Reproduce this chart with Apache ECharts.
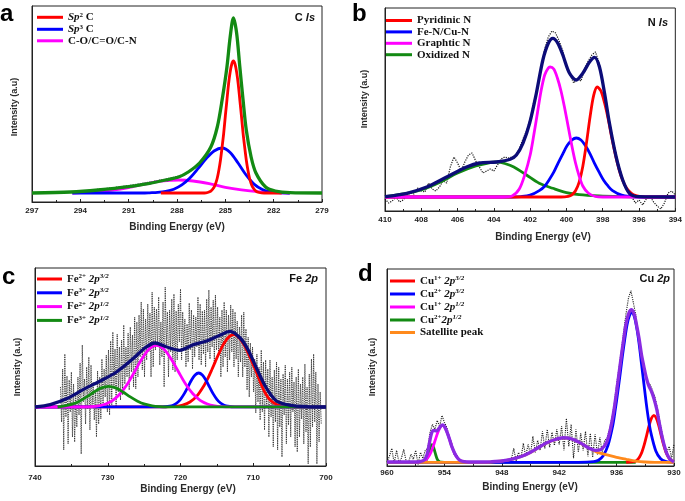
<!DOCTYPE html>
<html><head><meta charset="utf-8">
<script src="https://cdn.jsdelivr.net/npm/echarts@6/dist/echarts.min.js"></script>
<style>html,body{margin:0;padding:0;background:#fff}#c{width:685px;height:501px}</style>
</head><body><div id="c"></div>
<script>
// ---------- Panel a : C 1s  ([binding energy eV, intensity]) ----------
const aSp2 = [[289,0],[286.3,0],[286.1,0.5],[285.9,1.9],[285.7,5.8],[285.6,9.5],[285.5,15],[285.4,23],[285.3,33],[285.2,46],[285.1,60],[285.0,77],[284.9,93],[284.8,109],[284.7,121],[284.6,129],[284.5,132],[284.4,129],[284.3,121],[284.2,109],[284.1,93],[284.0,77],[283.9,60],[283.8,46],[283.7,33],[283.6,23],[283.5,15],[283.4,9.5],[283.3,5.8],[283.1,1.9],[282.9,0.5],[282.6,0],[281.5,0]];
const aSp3 = [[294.5,0],[290,0],[289.7,0.2],[289.2,0.6],[288.7,1.6],[288.2,3.8],[287.7,8.1],[287.2,15],[286.7,24.3],[286.2,34.2],[285.7,42],[285.2,45],[284.7,40.6],[284.2,29.7],[283.7,17.8],[283.2,8.6],[282.7,3.4],[282.2,1.1],[281.7,0.3],[281,0]];
const aCO = [[294.5,0],[294,0.3],[293,1.2],[292,2.9],[291,5.5],[290,8.9],[289,11.8],[287.9,13],[287,12],[286,9.3],[285,5.7],[284,3.1],[283,1.3],[282,0.5],[281,0]];
const aFit = [[297,0],[294.6,1],[292.9,3],[291,6.3],[289.7,9.7],[288.7,13],[287.9,16],[287.3,21],[286.6,30],[285.9,46],[285.5,66],[285.2,93],[284.9,126],[284.7,156],[284.5,175],[284.3,160],[284.1,126],[283.9,93],[283.7,63],[283.4,36],[283.1,20],[282.5,6],[281.9,2],[281,0.3],[279,0]];
const aRaw = [[294,1.5],[293,3.5],[292,5.2],[291,7.5],[290,10],[289,13],[288,16.5],[287.5,19.5],[287,23.5],[286.7,28]];

// ---------- Panel b : N 1s ----------
const bPyridinic = [[410,0],[400.3,0],[399.9,0.7],[399.7,2.2],[399.5,6.2],[399.3,14.9],[399.1,30.6],[398.9,53.6],[398.7,80],[398.5,101.6],[398.3,110],[398.1,106],[397.9,94],[397.7,78],[397.5,59],[397.3,42],[397.1,27.5],[396.9,16.6],[396.7,9.3],[396.5,4.9],[396.3,2.3],[395.9,0.4],[395.5,0],[394,0]];
const bFeN = [[410,0],[403,0],[402.5,0.4],[402,1.8],[401.5,6.4],[401.2,10.8],[400.96,17],[400.7,24.8],[400.46,33.9],[400.2,43.2],[399.96,51.4],[399.7,57],[399.46,59],[399.2,57],[398.96,51.4],[398.7,43.2],[398.46,33.9],[398.2,24.8],[397.96,17],[397.7,10.8],[397.46,6.4],[396.96,1.8],[396.46,0.4],[396,0],[394,0]];
const bGraphitic = [[410,0],[403.5,0],[403.0,1],[402.6,8],[402.3,22],[402.0,42],[401.8,62],[401.6,84],[401.4,106],[401.2,122],[401.0,129],[400.9,130],[400.7,128],[400.5,119],[400.3,106],[400.1,89],[399.9,70],[399.7,51],[399.5,34],[399.3,21],[399.1,11],[398.8,4],[398.4,0.5],[398,0],[394,0]];
const bOxidized = [[410,0.3],[409,3],[408,7],[407,14.5],[406,24],[405,31],[404.2,34.5],[403.8,35],[403.4,33.5],[402.9,30],[402.2,22],[401.5,13.7],[400.75,8.7],[400,4.3],[399.3,2.3],[398.2,1],[397,0.4],[396,0.2],[394,0]];
const bFit = [[410,0.3],[408.8,3.7],[407.7,10],[406.6,20],[405.5,30],[404.8,34],[403.86,35],[403.1,37.7],[402.76,42],[402.4,53.7],[402.03,73.7],[401.66,103.7],[401.3,137],[401.0,153.7],[400.75,158.7],[400.47,153.7],[400.2,142],[399.83,123.7],[399.46,117],[399.1,123.7],[398.73,135],[398.45,139.7],[398.18,130],[397.9,103.7],[397.63,73.7],[397.26,40],[396.9,17],[396.53,3.7],[396,0.3],[394,0]];
const bRawStart = 410, bRawStep = 0.2;
const bRaw = [-2,-6,-4,0,-5,-3,2,4,3,9, 6,5,14,8,6,10,16,14,30,40, 34,26,35,42,44,36,30,24,26,28, 26,32,38,40,39,40,42,48,58,66, 78,95,110,130,148,160,166,164,156,146, 130,122,114,118,116,128,136,142,145,134, 115,95,72,54,38,24,11,4,0,-6, -3,-8,-2,1,-5,-9,-12,-6,4,6, 2];

// ---------- Panel c : Fe 2p ----------
const cFe2p32 = [[740,0],[722,0.2],[720.7,0.6],[719.7,1.9],[718.7,5],[717.7,11.4],[716.7,22.2],[716.2,29.2],[715.7,37.2],[715.2,45.6],[714.7,53.8],[714.2,61.3],[713.7,67.2],[713.2,71],[712.7,72.4],[712.2,71],[711.7,67.2],[711.2,61.3],[710.7,53.8],[710.2,45.6],[709.7,37.2],[709.2,28],[708.7,19],[708.2,12],[707.7,7],[706.7,2.2],[705.7,0.6],[704.7,0.1],[700,0]];
const cFe3p32 = [[740,0],[722.5,0.1],[721.5,0.75],[721,1.8],[720.5,4],[720,7.7],[719.5,13.1],[719,19.9],[718.5,26.8],[718,32],[717.5,34],[717,32],[716.5,26.8],[716,19.9],[715.5,13.1],[715,7.7],[714.5,4],[714,1.8],[713.5,0.75],[712.5,0.1],[700,0]];
const cFe2p12 = [[740,0],[733.3,0.1],[732.3,0.4],[731.3,1.2],[730.3,3],[729.3,6.7],[728.3,13.2],[727.3,23],[726.3,35.5],[725.3,48.2],[724.3,58],[723.3,61.7],[722.3,58],[721.3,48.2],[720.3,35.5],[719.3,23],[718.3,13.2],[717.3,6.7],[716.3,3],[715.3,1.2],[714.3,0.4],[713.3,0.1],[700,0]];
const cFe3p12 = [[736.9,0],[735.9,1.2],[734.9,2.8],[733.9,5.8],[732.9,10.1],[731.9,15],[730.9,19.1],[729.9,20.7],[728.9,19.1],[727.9,15],[726.9,10.1],[725.9,5.8],[724.9,2.8],[723.9,1.2],[722.9,0.4],[721.9,0.1],[700,0]];
const cFit = [[740,0],[737.9,2.4],[735.6,8.4],[733.4,17.4],[731.1,25.7],[728.8,35],[726.5,48.4],[724.9,59],[723.5,64],[721.9,60],[720.1,56.7],[718.2,62.4],[716.4,66],[714.6,71.7],[713.2,75.7],[711.8,69],[710.7,57],[709.5,38],[708.2,19],[706.8,6],[704.9,1.7],[702.7,0.4],[700,0]];
const cRawStart = 736.5, cRawStep = 0.15;
const cRaw = [20,-15,38,-43, 53,-10,31,-37, 27,-5,35,-30, 23,-35,12,-20, 30,-8,44,-47, 62,5,28,-17, 40,-2,50,-23, 42,0,25,-13, 17,-30,36,-17, 30,-12,48,0,
  38,10,52,-5, 57,-8,66,2, 75,20,58,0, 73,15,60,7, 67,12,82,23, 60,30,74,17, 80,35,72,20, 90,18,85,30, 92,50,105,37, 98,30,88,47,
  103,55,94,30, 115,40,100,57, 98,60,110,42, 85,50,105,20, 120,62,95,30, 97,55,108,37, 113,35,96,47, 103,65,118,47, 95,58,88,40, 83,45,104,57,
  97,38,92,50, 90,60,110,47, 103,42,96,53, 97,40,108,55, 117,48,100,60, 107,42,112,57, 100,52,90,30, 97,40,105,50, 97,35,92,47, 102,55,98,40,
  95,48,86,30, 80,45,92,30, 95,40,78,17, 70,10,64,30, 60,15,48,-6, 53,5,40,-13, 57,-5,45,-23, 47,0,38,-30, 47,-10,30,-40, 37,-15,45,-43,
  40,-20,28,-50, 33,-8,42,-37, 28,-18,35,-30, 40,-5,25,-40, 30,-45,38,-30, 23,-12,30,-37, 43,-25,20,-57, 33,-40,48,-20, 53,-15,35,-57, 23,-35,15,-17];

// ---------- Panel d : Cu 2p ----------
const dCu1p32 = [[935,0],[934.1,1],[933.85,2.4],[933.6,5.4],[933.35,10.4],[933.1,17.9],[932.85,27.3],[932.6,37],[932.35,44.2],[932.1,47],[931.85,44.2],[931.6,37],[931.35,27.3],[931.1,17.9],[930.85,10.4],[930.6,5.4],[930.35,2.4],[930.1,1],[930,0.7]];
const dCu2p32 = [[960,0],[940,0],[938.4,0.6],[937.9,2.1],[937.4,6.6],[936.9,17],[936.4,37],[936.15,52],[935.9,69],[935.65,87],[935.4,106],[935.15,123],[934.9,138],[934.65,147],[934.4,150],[934.15,146],[933.9,135],[933.65,119],[933.4,99],[933.15,79],[932.9,59],[932.65,42],[932.4,29],[931.9,11.4],[931.4,3.6],[930.9,0.9],[930.4,0.1],[930,0]];
const dCu1p12 = [[957,0],[956.7,0.2],[956.2,1.1],[955.95,2.4],[955.7,5],[955.45,9.2],[955.2,15.2],[954.95,22.5],[954.7,29.6],[954.45,35],[954.2,37],[953.95,35],[953.7,29.6],[953.45,22.5],[953.2,15.2],[952.95,9.2],[952.7,5],[952.45,2.4],[952.2,1.1],[951.7,0.2],[951,0]];
const dCu2p12 = [[957,0],[956.3,0.1],[956.1,0.5],[956.0,1.2],[955.9,2.4],[955.8,4.4],[955.7,7.3],[955.6,10.7],[955.5,14.2],[955.4,16.7],[955.3,17.7],[955.2,16.7],[955.1,14.2],[955.0,10.7],[954.9,7.3],[954.8,4.4],[954.7,2.4],[954.6,1.2],[954.5,0.5],[954.3,0.1],[954,0],[934,0]];
const dSatellite = [[960,0],[949.5,0],[948.5,0.8],[947.5,2],[946.8,3.4],[946,5.8],[945.1,9.4],[944.2,14.5],[943.3,19.4],[942.5,22.5],[941.6,24.5],[940.8,23.6],[939.8,19.4],[938.8,13.7],[938,10],[937,7.5],[936,5],[935,3],[934,1.2],[933,0.3],[932,0],[930,0]];
const dFit = [[960,0.3],[957,0.3],[956.5,0.8],[956.2,1.6],[956.0,3.8],[955.8,8.2],[955.6,17.5],[955.45,25],[955.3,30.3],[955.15,32],[955.0,31.7],[954.8,31.5],[954.6,33.5],[954.4,36],[954.2,37.5],[954.0,36],[953.8,32],[953.6,27],[953.4,21],[953.2,15.2],[952.9,8.6],[952.6,4],[952.3,1.6],[951.9,0.6],[951.5,0.3],[950,0.3],[949.2,0.5],[948,1.3],[946.8,3.5],[945.9,6],[945.1,9.5],[944.2,14.6],[943.3,19.5],[942.5,22.6],[941.6,24.6],[940.8,23.7],[939.8,19.5],[938.8,13.8],[938.2,12],[937.7,12.5],[937.3,16],[937.0,21],[936.75,29],[936.5,40],[936.25,54],[936.0,71],[935.75,89],[935.5,107],[935.25,124],[935.0,139.5],[934.7,150],[934.43,153],[934.15,148],[933.9,137],[933.65,124],[933.4,108],[933.15,96],[932.9,85],[932.65,77],[932.4,72],[932.1,64],[931.8,53],[931.55,40],[931.3,28],[931.05,18],[930.8,10],[930.5,4.2],[930.25,1.8],[930,0.7]];
const dRawStart = 960, dRawStep = 0.25;
const dRaw = [0,6,14,-1,12,0,4,13,1,0, 8,3,12,-2,10,4,12,14,30,38, 33,42,36,47,40,35,26,20,8,8, 4,1,0,0,0, 0,0,0,0,0,0,0,0,0.5,0.5,0.8,1,1,1.2,1.5,2,2, 3,14,1,10,4,19,6,18,8,26, 10,22,12,31,14,33,15,30,17,33, 18,36,12,44,16,38,4,33,10,29, 12,31,6,29,5,28,8,25,10,22, 24,33,44,58,78,95,112,132,150,165, 172,160,148,128,115,98,88,80,78,72, 66,55,42,30,18,10,16,4,18];

// ---------- axis ranges / labels ----------
const xRanges = [[279,297,3],[394,410,2],[700,740,10],[930,960,6]];
const yRanges = [[-9,187],[-14,189],[-59,139],[-3.7,193.7]];
const panelLetters = ['a','b','c','d'];
const xTitle = 'Binding Energy (eV)';
const yTitle = 'Intensity (a.u)';

const SANS = '"Liberation Sans", Arial, sans-serif';
const SERIF = '"Liberation Serif", "Times New Roman", serif';
const RED='#ff0000', BLUE='#0000ff', MAG='#ff00ff', GRN='#138a13', NAVY='#0c0c78', ORG='#ff8a1c', PUR='#8a2be2';
const WC = 2.8, WT = 3.3;

const grids = [
  {left:32, top:6, width:290, height:196},
  {left:385, top:8, width:291, height:203},
  {left:35, top:268, width:291, height:198},
  {left:387, top:269, width:287, height:197}
];
const labelMargins = [5,5,8,3];

function line(name, data, color, width, idx) {
  return {type:'line', name:name, data:data, xAxisIndex:idx, yAxisIndex:idx, symbol:'none', showSymbol:false,
    smooth:0.3, color:color, lineStyle:{color:color, width:width}, itemStyle:{color:color}, silent:true, animation:false};
}
function raw(ys, start, step, idx, w) {
  return {type:'line', data: ys.map((y,i)=>[+(start - i*step).toFixed(3), y]), xAxisIndex:idx, yAxisIndex:idx,
    symbol:'none', showSymbol:false, lineStyle:{color:'#1a1a1a', width:w, type:'dotted'}, silent:true, animation:false};
}
function rawPairs(d, idx) {
  return {type:'line', data:d, xAxisIndex:idx, yAxisIndex:idx, symbol:'none', smooth:0.3,
    lineStyle:{color:'#1a1a40', width:1.2, type:'dotted'}, silent:true, animation:false};
}

const series = [
  rawPairs(aRaw,0),
  line('C-O/C=O/C-N', aCO, MAG, WC, 0),
  line('Sp3 C', aSp3, BLUE, WC, 0),
  line('Sp2 C', aSp2, RED, WC, 0),
  line('C fit', aFit, GRN, WT, 0),

  raw(bRaw, bRawStart, bRawStep, 1, 1.2),
  line('Oxidized N', bOxidized, GRN, WC, 1),
  line('Fe-N/Cu-N', bFeN, BLUE, WC, 1),
  line('Pyridinic N', bPyridinic, RED, WC, 1),
  line('Graphtic N', bGraphitic, MAG, WC, 1),
  line('N fit', bFit, NAVY, WT, 1),

  raw(cRaw, cRawStart, cRawStep, 2, 0.9),
  line('Fe2+ 2p3/2', cFe2p32, RED, WC, 2),
  line('Fe3+ 2p3/2', cFe3p32, BLUE, WC, 2),
  line('Fe2+ 2p1/2', cFe2p12, MAG, WC, 2),
  line('Fe3+ 2p1/2', cFe3p12, GRN, WC, 2),
  line('Fe fit', cFit, NAVY, WT, 2),

  raw(dRaw, dRawStart, dRawStep, 3, 1.1),
  line('Cu2+ 2p1/2', dCu2p12, GRN, WC, 3),
  line('Cu1+ 2p1/2', dCu1p12, MAG, WC, 3),
  line('Cu1+ 2p3/2', dCu1p32, RED, WC, 3),
  line('Cu2+ 2p3/2', dCu2p32, BLUE, WC, 3),
  line('Satellite peak', dSatellite, ORG, WC, 3),
  line('Cu fit', dFit, PUR, WT, 3)
];

const LEG = {
  'Sp2 C':'{i|Sp}{s|2} {n|C}', 'Sp3 C':'{i|Sp}{s|3} {n|C}', 'C-O/C=O/C-N':'{n|C-O/C=O/C-N}',
  'Pyridinic N':'{n|Pyridinic N}', 'Fe-N/Cu-N':'{n|Fe-N/Cu-N}', 'Graphtic N':'{n|Graphtic N}', 'Oxidized N':'{n|Oxidized N}',
  'Fe2+ 2p3/2':'{n|Fe}{s|2+} {i|2p}{si|3/2}', 'Fe3+ 2p3/2':'{n|Fe}{s|3+} {i|2p}{si|3/2}',
  'Fe2+ 2p1/2':'{n|Fe}{s|2+} {i|2p}{si|1/2}', 'Fe3+ 2p1/2':'{n|Fe}{s|3+} {i|2p}{si|1/2}',
  'Cu1+ 2p3/2':'{n|Cu}{s|1+} {i|2p}{si|3/2}', 'Cu2+ 2p3/2':'{n|Cu}{s|2+} {i|2p}{si|3/2}',
  'Cu1+ 2p1/2':'{n|Cu}{s|1+} {i|2p}{si|1/2}', 'Cu2+ 2p1/2':'{n|Cu}{s|2+}{i|2p}{si|1/2}',
  'Satellite peak':'{n|Satellite peak}'
};
const rich = {
  n:{fontFamily:SERIF, fontWeight:'bold', fontSize:11, lineHeight:12, color:'#111'},
  i:{fontFamily:SERIF, fontWeight:'bold', fontStyle:'italic', fontSize:11, lineHeight:12, color:'#111'},
  s:{fontFamily:SERIF, fontWeight:'bold', fontSize:7, lineHeight:12, verticalAlign:'top', color:'#111'},
  si:{fontFamily:SERIF, fontWeight:'bold', fontStyle:'italic', fontSize:7, lineHeight:12, verticalAlign:'top', color:'#111'}
};
function legend(names, left, top, itemWidth, itemGap) {
  return {orient:'vertical', left:left, top:top, padding:0, itemWidth:itemWidth, itemHeight:3, itemGap:itemGap,
    icon:'rect', selectedMode:false, data:names, formatter:n=>LEG[n],
    textStyle:{fontFamily:SERIF, fontWeight:'bold', fontSize:11, color:'#111', rich:rich}};
}

const xAxis = xRanges.map((r,i)=>({type:'value', gridIndex:i, inverse:true, min:r[0], max:r[1], interval:r[2],
  axisLine:{show:true, onZero:false, lineStyle:{color:'#222', width:1}},
  axisTick:{show:true, inside:true, length:3, lineStyle:{color:'#222'}},
  minorTick:{show:true, splitNumber:2, length:2, lineStyle:{color:'#222'}},
  splitLine:{show:false},
  axisLabel:{fontFamily:SANS, fontWeight:'bold', fontSize:8, color:'#222', margin:labelMargins[i]}}));
const yAxis = yRanges.map((r,i)=>({type:'value', gridIndex:i, min:r[0], max:r[1],
  axisLine:{show:true, onZero:false, lineStyle:{color:'#222', width:1}},
  axisTick:{show:false}, axisLabel:{show:false}, splitLine:{show:false}}));

const titleRich = {
  b:{fontFamily:SANS, fontWeight:'bold', fontSize:11, fill:'#111'},
  bi:{fontFamily:SANS, fontWeight:'bold', fontStyle:'italic', fontSize:11, fill:'#111'}
};
function txt(x,y,text,size,extra) {
  return Object.assign({type:'text', x:x, y:y, silent:true,
    style:{text:text, fontFamily:SANS, fontWeight:'bold', fontSize:size, fill:'#2a2a2a', align:'center', verticalAlign:'middle'}}, extra||{});
}
const letterPos = [[0,14.5],[352,14.5],[2,277],[358,274.5]];
const xTitlePos = [[177,227],[543,237],[188,489],[530,487]];
const yTitlePos = [[15,107],[365,99],[18,367],[373,367]];
const panelTitles = [['{b|C }{bi|ls}',315,18],['{b|N }{bi|ls}',668,23],['{b|Fe }{bi|2p}',318,279],['{b|Cu }{bi|2p}',670,279]];

const graphic = [];
panelLetters.forEach((l,i)=>graphic.push({type:'text', x:letterPos[i][0], y:letterPos[i][1], silent:true,
  style:{text:l, fontFamily:SANS, fontWeight:'bold', fontSize:24, fill:'#000', align:'left', verticalAlign:'middle'}}));
xTitlePos.forEach(p=>graphic.push(txt(p[0],p[1],xTitle,10)));
yTitlePos.forEach(p=>graphic.push(txt(p[0],p[1],yTitle,9,{rotation:Math.PI/2})));
panelTitles.forEach(t=>graphic.push({type:'text', x:t[1], y:t[2], silent:true,
  style:{text:t[0], rich:titleRich, align:'right', verticalAlign:'middle'}}));

const chart = echarts.init(document.getElementById('c'), null, {renderer:'canvas'});
chart.setOption({
  animation:false,
  backgroundColor:'#ffffff',
  textStyle:{fontFamily:SANS},
  grid: grids.map(g=>Object.assign({show:true, borderColor:'#222', borderWidth:1, backgroundColor:'transparent', containLabel:false}, g)),
  xAxis: xAxis,
  yAxis: yAxis,
  legend: [
    legend(['Sp2 C','Sp3 C','C-O/C=O/C-N'], 37, 11.3, 26, 0.5),
    legend(['Pyridinic N','Fe-N/Cu-N','Graphtic N','Oxidized N'], 386, 15, 26, 0.4),
    legend(['Fe2+ 2p3/2','Fe3+ 2p3/2','Fe2+ 2p1/2','Fe3+ 2p1/2'], 37, 273, 25, 2.3),
    legend(['Cu1+ 2p3/2','Cu2+ 2p3/2','Cu1+ 2p1/2','Cu2+ 2p1/2','Satellite peak'], 390, 275, 25, 1.5)
  ],
  graphic: graphic,
  series: series
});
</script></body></html>
